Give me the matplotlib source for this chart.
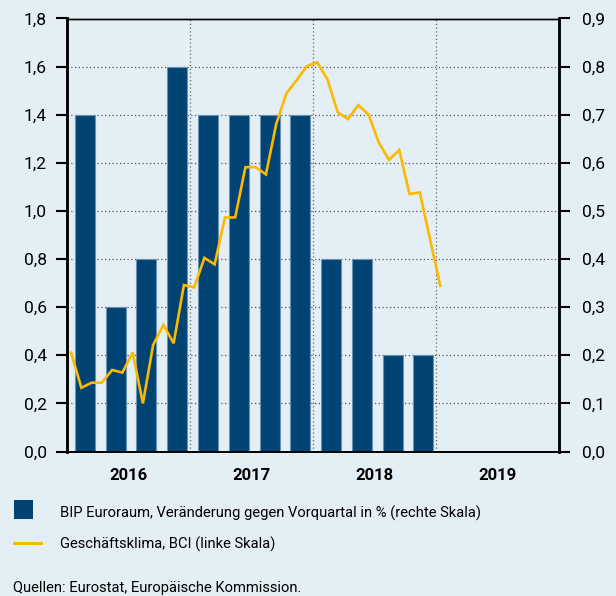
import matplotlib
matplotlib.use("Agg")
import matplotlib.pyplot as plt
from matplotlib.patches import Rectangle
from matplotlib.lines import Line2D
import numpy as np

plt.rcParams['font.family'] = ['Roboto', 'DejaVu Sans']

# ---- data ----
years = ["2016", "2017", "2018", "2019"]
quarters = ["Q1 16", "Q2 16", "Q3 16", "Q4 16", "Q1 17", "Q2 17", "Q3 17", "Q4 17",
            "Q1 18", "Q2 18", "Q3 18", "Q4 18"]
gdp = [0.7, 0.3, 0.4, 0.8, 0.7, 0.7, 0.7, 0.7, 0.4, 0.4, 0.2, 0.2]
months = [f"{y}-{m:02d}" for y in (2016, 2017, 2018) for m in range(1, 13)] + ["2019-01"]
bci = [0.41, 0.265, 0.286, 0.286, 0.339, 0.328, 0.412, 0.20, 0.443, 0.526, 0.45, 0.692,
       0.682, 0.805, 0.778, 0.973, 0.973, 1.182, 1.182, 1.152, 1.361, 1.489, 1.544, 1.602,
       1.618, 1.547, 1.41, 1.382, 1.44, 1.401, 1.285, 1.212, 1.253, 1.07, 1.077, 0.883,
       0.689]
left_ticks = [0.0, 0.2, 0.4, 0.6, 0.8, 1.0, 1.2, 1.4, 1.6, 1.8]
right_ticks = [0.0, 0.1, 0.2, 0.3, 0.4, 0.5, 0.6, 0.7, 0.8, 0.9]
legend_labels = ["BIP Euroraum, Veränderung gegen Vorquartal in % (rechte Skala)",
                 "Geschäftsklima, BCI (linke Skala)"]
source = "Quellen: Eurostat, Europäische Kommission."

# ---- style ----
BG = "#e4eef5"
BAR = "#014373"
BAR_EDGE = "#6a93b5"
LINE = "#fbb900"
W, H = 616, 596

fig = plt.figure(figsize=(W / 100, H / 100), dpi=100, facecolor=BG)
ax = fig.add_axes([66.5 / W, 1 - 451.5 / H, (558.7 - 66.5) / W, (451.5 - 18.5) / H])
ax.set_facecolor(BG)
ax2 = ax.twinx()

# x axis in months from Jan 2016 (0) to end of 2019 (48)
xm = np.arange(len(bci)) + 0.45
xq = np.arange(len(gdp)) * 3 + 1.8

# bars on right axis (ax2), drawn behind line
ax2.bar(xq, gdp, width=1.95, color=BAR, edgecolor=BAR_EDGE, linewidth=0.8, zorder=2)
ax2.set_ylim(0, 0.9)
ax2.set_yticks(right_ticks)
ax2.set_yticklabels([f"{t:.1f}".replace(".", ",") for t in right_ticks])

# line on left axis, put ax above ax2
ax.set_zorder(ax2.get_zorder() + 1)
ax.patch.set_visible(False)
ax2.patch.set_visible(True)
ax2.patch.set_facecolor(BG)
ax.plot(xm, bci, color=LINE, lw=1.9, solid_joinstyle='miter', zorder=3)
ax.set_ylim(0, 1.8)
ax.set_xlim(0, 48)
ax.set_yticks(left_ticks)
ax.set_yticklabels([f"{t:.1f}".replace(".", ",") for t in left_ticks])

# grid (drawn on ax2 so it sits behind bars)
for t in left_ticks[1:-1]:
    ax2.axhline(t / 2, color="#555555", lw=0.9, ls=(0, (1, 2)), zorder=1)
for k in range(1, len(years)):
    ax2.axvline(12 * k, color="#666666", lw=0.9, ls=(0, (1, 2)), zorder=1)

# x ticks: year labels centred in each year
ax.set_xticks([12 * k + 6 for k in range(len(years))])
ax.set_xticklabels(years, fontsize=12, fontweight="bold")
ax.tick_params(axis="x", length=0, pad=12)
ax2.tick_params(axis="x", length=0)

ax.tick_params(axis="y", direction="out", length=8, width=1.5, labelsize=12.5, pad=6)
ax2.tick_params(axis="y", direction="out", length=8, width=1.5, labelsize=12.5, pad=9)

for a in (ax, ax2):
    a.spines["left"].set_linewidth(1.8)
    a.spines["right"].set_linewidth(1.8)
    a.spines["top"].set_linewidth(1.0)
    a.spines["bottom"].set_linewidth(1.2)

# ---- legend ----
fig.add_artist(Rectangle((14 / W, 1 - 519 / H), 19 / W, 19 / H, transform=fig.transFigure,
                         facecolor=BAR, edgecolor="none"))
fig.add_artist(Line2D([14 / W, 41 / W], [1 - 543 / H] * 2, transform=fig.transFigure,
                      color=LINE, lw=2.2))
fig.text(60 / W, 1 - 513 / H, legend_labels[0], fontsize=10.6, va="center", ha="left")
fig.text(60 / W, 1 - 544 / H, legend_labels[1], fontsize=10.6, va="center", ha="left")
fig.text(13 / W, 1 - 588 / H, source, fontsize=10.6, va="center", ha="left")

fig.savefig("out.png", dpi=100, facecolor=BG)
